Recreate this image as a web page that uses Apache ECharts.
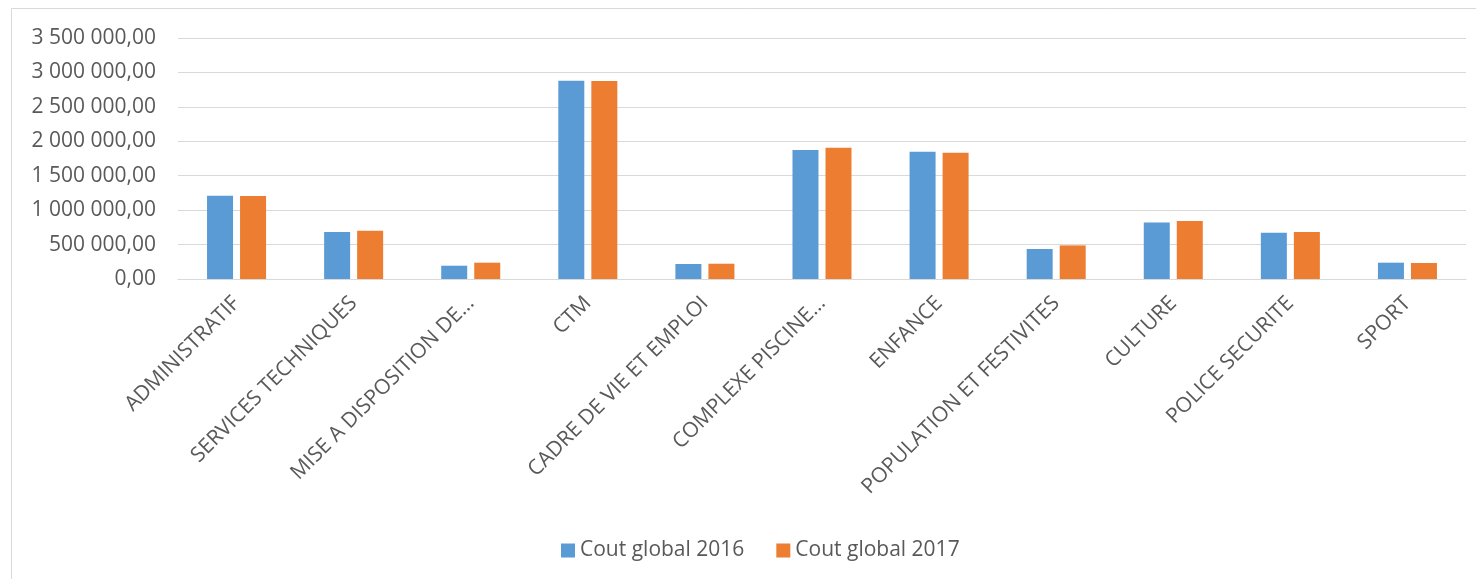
<!DOCTYPE html>
<html>
<head>
<meta charset="utf-8">
<script src="https://cdn.jsdelivr.net/npm/echarts@6/dist/echarts.min.js"></script>
<style>
  html, body { margin: 0; padding: 0; background: #fff; }
  #chart { width: 1476px; height: 579px; }
</style>
</head>
<body>
<div id="chart"></div>
<script>
// Service categories (labels as displayed on the axis)
const categories = [
  'ADMINISTRATIF', 'SERVICES TECHNIQUES', 'MISE A DISPOSITION DE…', 'CTM',
  'CADRE DE VIE ET EMPLOI', 'COMPLEXE PISCINE…', 'ENFANCE',
  'POPULATION ET FESTIVITES', 'CULTURE', 'POLICE SECURITE', 'SPORT'
];
// Global cost per service, 2016 and 2017
const cout2016 = [1210000, 682000, 193000, 2880000, 218000, 1873000, 1849000, 436000, 822000, 672000, 237000];
const cout2017 = [1205000, 701000, 237000, 2875000, 222000, 1907000, 1834000, 488000, 842000, 683000, 232000];
const seriesNames = ['Cout global 2016', 'Cout global 2017'];

const FONT = '"Open Sans", "DejaVu Sans", sans-serif';
const TEXT = '#595959';
const GRID = '#D9D9D9';

// French number format: "3 500 000,00"
function frNumber(v) {
  const parts = Number(v).toFixed(2).split('.');
  const intPart = parts[0].replace(/\B(?=(\d{3})+(?!\d))/g, ' ');
  return intPart + ',' + parts[1];
}

const chart = echarts.init(document.getElementById('chart'), null, { renderer: 'canvas' });
chart.setOption({
  animation: false,
  backgroundColor: '#fff',
  textStyle: { fontFamily: FONT },
  graphic: [{
    type: 'rect',
    shape: { x: 11.5, y: 8.5, width: 1600, height: 800 },
    style: { fill: 'none', stroke: GRID, lineWidth: 1 },
    silent: true, z: -1
  }],
  grid: { left: 178, right: 10, top: 38, bottom: 300, containLabel: false },
  legend: {
    left: 556, top: 535,
    itemWidth: 14, itemHeight: 14, itemGap: 32,
    icon: 'rect',
    textStyle: { fontFamily: FONT, fontSize: 21, color: TEXT, padding: [0, 0, 0, 0] },
    data: seriesNames
  },
  xAxis: {
    type: 'category',
    data: categories,
    axisLine: { show: true, lineStyle: { color: GRID, width: 1 } },
    axisTick: { show: false },
    axisLabel: {
      interval: 0, rotate: 45, margin: 21,
      fontFamily: FONT, fontSize: 21, color: TEXT
    }
  },
  yAxis: {
    type: 'value',
    min: 0, max: 3500000, interval: 500000,
    axisLine: { show: false },
    axisTick: { show: false },
    splitLine: { lineStyle: { color: GRID, width: 1 } },
    axisLabel: {
      margin: 22, fontFamily: FONT, fontSize: 21, color: TEXT,
      formatter: frNumber
    }
  },
  series: [
    { name: seriesNames[0], type: 'bar', data: cout2016, barWidth: 26, barGap: '27%',
      itemStyle: { color: '#5B9BD5' } },
    { name: seriesNames[1], type: 'bar', data: cout2017, barWidth: 26, barGap: '27%',
      itemStyle: { color: '#ED7D31' } }
  ]
});
</script>
</body>
</html>
